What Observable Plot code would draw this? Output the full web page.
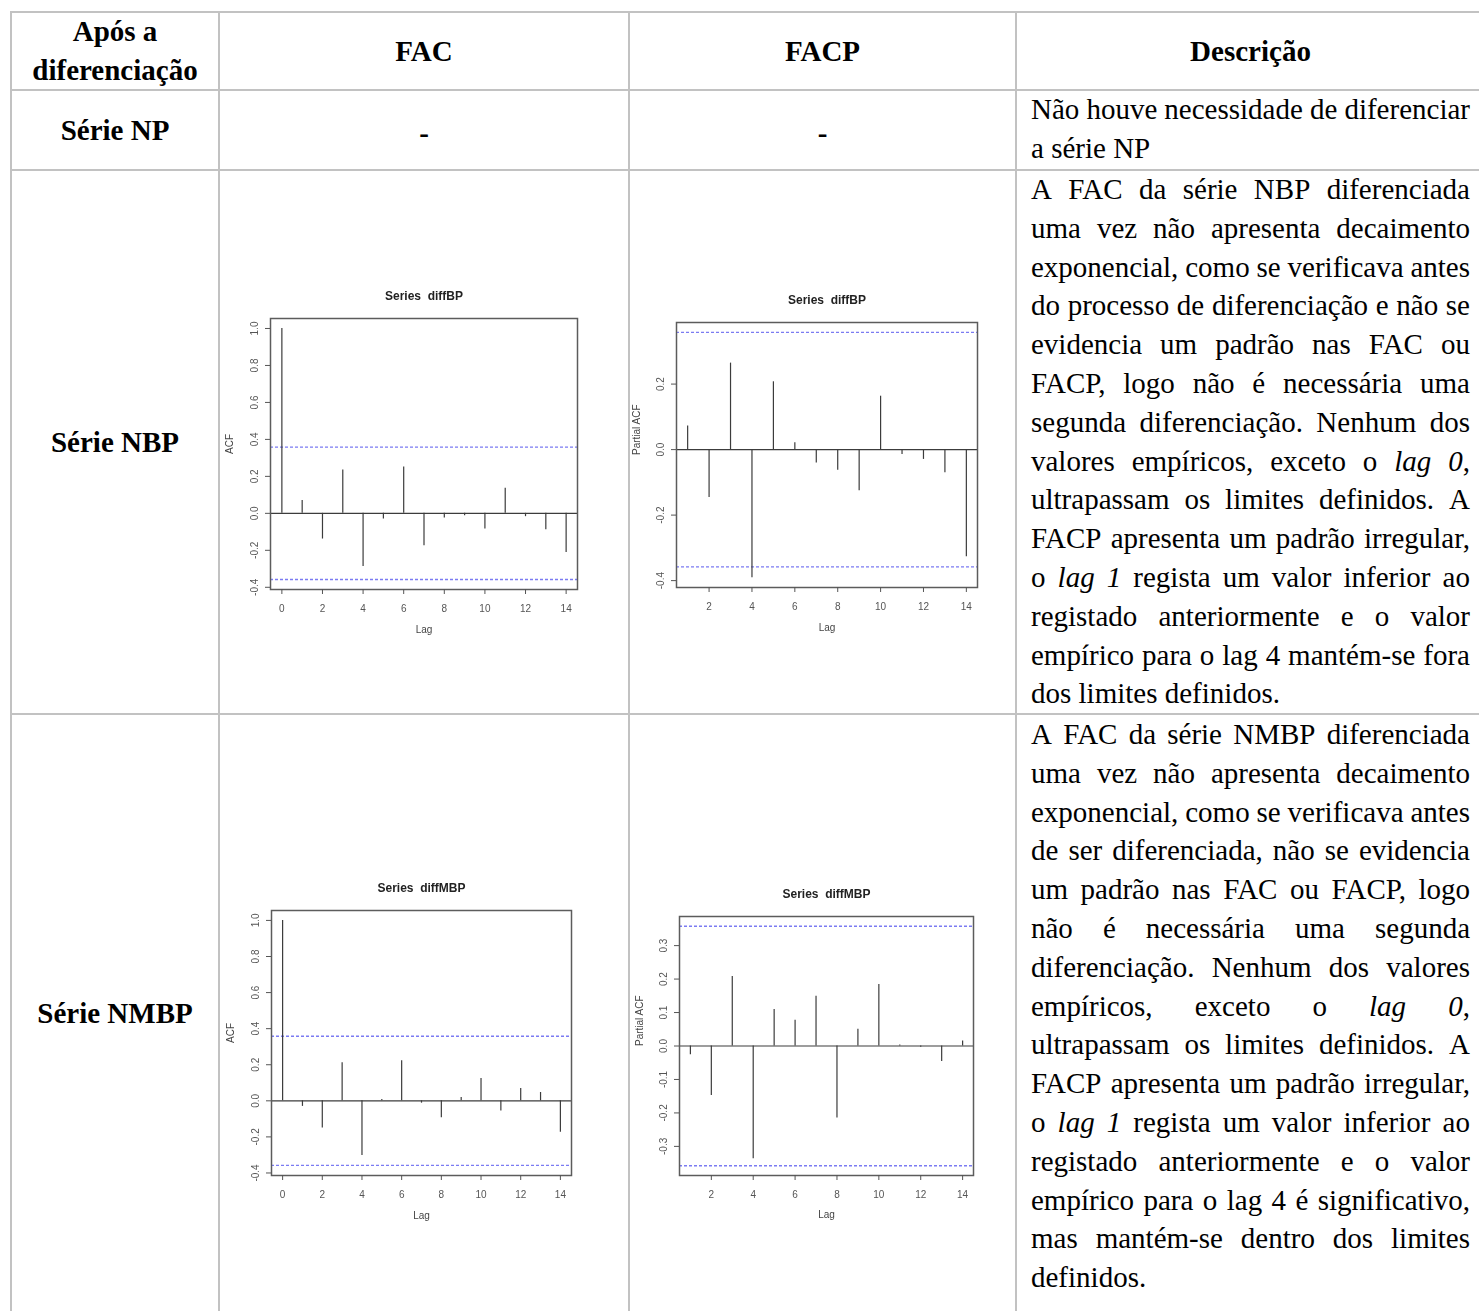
<!DOCTYPE html>
<html>
<head>
<meta charset="utf-8">
<script src="https://cdn.jsdelivr.net/npm/d3@7"></script>
<script src="https://cdn.jsdelivr.net/npm/@observablehq/plot@0.6"></script>
<style>
  html, body { margin: 0; padding: 0; background: #fff; }
  body {
    width: 1479px; height: 1311px; position: relative; overflow: hidden;
    font-family: "Liberation Serif", "Times New Roman", serif; color: #000;
  }
  .hl, .vl { position: absolute; background: #c2c2c2; }
  .hl { height: 2px; }
  .vl { width: 2px; }
  .txt { position: absolute; font-size: 29px; line-height: 38.8px; white-space: nowrap; }
  .bold { font-weight: bold; text-align: center; }
  .desc { position: absolute; left: 1031px; width: 439px; font-size: 29px; line-height: 38.8px; }
  .line { display: flex; justify-content: space-between; white-space: nowrap; height: 38.8px; }
  .line.last { justify-content: flex-start; gap: 0.25em; }
  .chart svg { overflow: visible; }
  .chartbox { position: absolute; filter: blur(0.35px); }
</style>
</head>
<body>
<div id="table"></div>
<script>
// ---- Table content ----
const headers = ["Após a|diferenciação", "FAC", "FACP", "Descrição"];
const rowLabels = ["Série NP", "Série NBP", "Série NMBP"];

const descNP = [
  "Não houve necessidade de diferenciar",
  "a série NP"
];
const descNBP = [
  "A FAC da série NBP diferenciada",
  "uma vez não apresenta decaimento",
  "exponencial, como se verificava antes",
  "do processo de diferenciação e não se",
  "evidencia um padrão nas FAC ou",
  "FACP, logo não é necessária uma",
  "segunda diferenciação. Nenhum dos",
  "valores empíricos, exceto o <i>lag</i> <i>0</i>,",
  "ultrapassam os limites definidos. A",
  "FACP apresenta um padrão irregular,",
  "o <i>lag</i> <i>1</i> regista um valor inferior ao",
  "registado anteriormente e o valor",
  "empírico para o lag 4 mantém-se fora",
  "dos limites definidos."
];
const descNMBP = [
  "A FAC da série NMBP diferenciada",
  "uma vez não apresenta decaimento",
  "exponencial, como se verificava antes",
  "de ser diferenciada, não se evidencia",
  "um padrão nas FAC ou FACP, logo",
  "não é necessária uma segunda",
  "diferenciação. Nenhum dos valores",
  "empíricos, exceto o <i>lag</i> <i>0</i>,",
  "ultrapassam os limites definidos. A",
  "FACP apresenta um padrão irregular,",
  "o <i>lag</i> <i>1</i> regista um valor inferior ao",
  "registado anteriormente e o valor",
  "empírico para o lag 4 é significativo,",
  "mas mantém-se dentro dos limites",
  "definidos."
];

// ---- Correlogram data ----
const lagsACF = [0, 1, 2, 3, 4, 5, 6, 7, 8, 9, 10, 11, 12, 13, 14];
const lagsPACF = [1, 2, 3, 4, 5, 6, 7, 8, 9, 10, 11, 12, 13, 14];
const acfDiffBP = [1.0, 0.069, -0.139, 0.235, -0.288, -0.031, 0.250, -0.175, -0.025, -0.013, -0.085, 0.136, -0.018, -0.089, -0.212];
const pacfDiffBP = [0.072, -0.146, 0.264, -0.391, 0.207, 0.021, -0.041, -0.063, -0.126, 0.163, -0.015, -0.030, -0.071, -0.327];
const acfDiffMBP = [1.0, -0.031, -0.150, 0.211, -0.303, 0.007, 0.222, -0.013, -0.094, 0.018, 0.124, -0.057, 0.068, 0.046, -0.174];
const pacfDiffMBP = [-0.026, -0.148, 0.208, -0.337, 0.109, 0.077, 0.149, -0.215, 0.050, 0.184, 0.003, -0.004, -0.046, 0.015];
const ciBound = 0.358; // 1.96 / sqrt(30)

const acfYTicks = [-0.4, -0.2, 0.0, 0.2, 0.4, 0.6, 0.8, 1.0];
const pacfBPYTicks = [-0.4, -0.2, 0.0, 0.2];
const pacfMBPYTicks = [-0.3, -0.2, -0.1, 0.0, 0.1, 0.2, 0.3];
const acfXTicks = [0, 2, 4, 6, 8, 10, 12, 14];
const pacfXTicks = [2, 4, 6, 8, 10, 12, 14];

const root = document.getElementById("table");

// ---- Grid lines ----
function hline(y, x1, x2) {
  const d = document.createElement("div");
  d.className = "hl";
  Object.assign(d.style, { left: x1 + "px", top: (y - 1) + "px", width: (x2 - x1) + "px" });
  root.appendChild(d);
}
function vline(x, y1, y2) {
  const d = document.createElement("div");
  d.className = "vl";
  Object.assign(d.style, { left: (x - 1) + "px", top: y1 + "px", height: (y2 - y1) + "px" });
  root.appendChild(d);
}
const colX = [11, 219, 629, 1016];
const rowY = [12, 90, 170, 714];
rowY.forEach(y => hline(y, colX[0] - 1, 1480));
colX.forEach(x => vline(x, rowY[0] - 1, 1311));

// ---- Text cells ----
function centered(html, x1, x2, top, bold = true) {
  const d = document.createElement("div");
  d.className = "txt" + (bold ? " bold" : "");
  Object.assign(d.style, { left: x1 + "px", width: (x2 - x1) + "px", top: top + "px" });
  d.innerHTML = html;
  root.appendChild(d);
}
centered(headers[0].split("|").join("<br>"), colX[0], colX[1], 12);
centered(headers[1], colX[1], colX[2], 32);
centered(headers[2], colX[2], colX[3], 32);
centered(headers[3], 1031, 1470, 32);

centered(rowLabels[0], colX[0], colX[1], 111);
centered(rowLabels[1], colX[0], colX[1], 423);
centered(rowLabels[2], colX[0], colX[1], 994);
centered("-", colX[1], colX[2], 114);
centered("-", colX[2], colX[3], 114);

function paragraph(lines, top) {
  const box = document.createElement("div");
  box.className = "desc";
  box.style.top = top + "px";
  lines.forEach((ln, i) => {
    const row = document.createElement("div");
    const last = i === lines.length - 1;
    row.className = "line" + (last ? " last" : "");
    ln.split(" ").forEach(w => {
      const s = document.createElement("span");
      s.innerHTML = w;
      row.appendChild(s);
    });
    box.appendChild(row);
  });
  root.appendChild(box);
}
paragraph(descNP, 90);
paragraph(descNBP, 170);
paragraph(descNMBP, 715);

// ---- Correlogram builder ----
function correlogram({ lags, values, xDomain, yDomain, xTicks, yTicks, ylabel, title, frame, titleY, lagY, ylabelX }) {
  const [L, R, T, B] = frame;
  const ml = 64, mr = 14, mt = 50, mb = 64;
  const data = lags.map((lag, i) => ({ lag, value: values[i] }));
  const svg = Plot.plot({
    width: (R - L) + ml + mr,
    height: (B - T) + mt + mb,
    marginLeft: ml, marginRight: mr, marginTop: mt, marginBottom: mb,
    style: { fontFamily: "'Liberation Sans', Arial, sans-serif", fontSize: "10px", background: "transparent", overflow: "visible" },
    x: { domain: xDomain },
    y: { domain: yDomain },
    marks: [
      Plot.ruleY([ciBound, -ciBound], { stroke: "#7b7bf2", strokeWidth: 1.4, strokeDasharray: "3,2" }),
      Plot.ruleY([0], { stroke: "#3c3c3c", strokeWidth: 1.2 }),
      Plot.ruleX(data, { x: "lag", y1: 0, y2: "value", stroke: "#3c3c3c", strokeWidth: 1.2 }),
      Plot.frame({ stroke: "#5c5c5c", strokeWidth: 1.5 }),
      Plot.axisX({ ticks: xTicks, tickFormat: d => String(d), tickSize: 5, tickPadding: 10, color: "#555", label: null }),
      Plot.axisY({ ticks: yTicks, tickFormat: d => d.toFixed(1), tickSize: 5, tickPadding: 7.5, tickRotate: -90, color: "#555", label: null }),
      Plot.text([title], { frameAnchor: "top", dy: titleY - T, fontWeight: "bold", fontSize: 12, fill: "#222" }),
      Plot.text(["Lag"], { frameAnchor: "bottom", dy: lagY - B, fontSize: 10, fill: "#444" }),
      Plot.text([ylabel], { frameAnchor: "left", dx: ylabelX - L, rotate: -90, fontSize: 10, fill: "#444" })
    ]
  });
  const box = document.createElement("div");
  box.className = "chartbox chart";
  Object.assign(box.style, { left: (L - ml) + "px", top: (T - mt) + "px" });
  box.appendChild(svg);
  root.appendChild(box);
}

correlogram({
  lags: lagsACF, values: acfDiffBP, xDomain: [-0.56, 14.56], yDomain: [-0.412, 1.054],
  xTicks: acfXTicks, yTicks: acfYTicks, ylabel: "ACF", title: "Series  diffBP",
  frame: [270, 577, 318, 589], titleY: 291, lagY: 632, ylabelX: 229
});
correlogram({
  lags: lagsPACF, values: pacfDiffBP, xDomain: [0.48, 14.52], yDomain: [-0.421, 0.388],
  xTicks: pacfXTicks, yTicks: pacfBPYTicks, ylabel: "Partial ACF", title: "Series  diffBP",
  frame: [676, 977, 322, 587], titleY: 295, lagY: 630, ylabelX: 636
});
correlogram({
  lags: lagsACF, values: acfDiffMBP, xDomain: [-0.56, 14.56], yDomain: [-0.414, 1.055],
  xTicks: acfXTicks, yTicks: acfYTicks, ylabel: "ACF", title: "Series  diffMBP",
  frame: [271, 571, 910, 1175], titleY: 883, lagY: 1218, ylabelX: 230
});
correlogram({
  lags: lagsPACF, values: pacfDiffMBP, xDomain: [0.48, 14.52], yDomain: [-0.387, 0.387],
  xTicks: pacfXTicks, yTicks: pacfMBPYTicks, ylabel: "Partial ACF", title: "Series  diffMBP",
  frame: [679, 973, 916, 1175], titleY: 889, lagY: 1217, ylabelX: 639
});
</script>
</body>
</html>
